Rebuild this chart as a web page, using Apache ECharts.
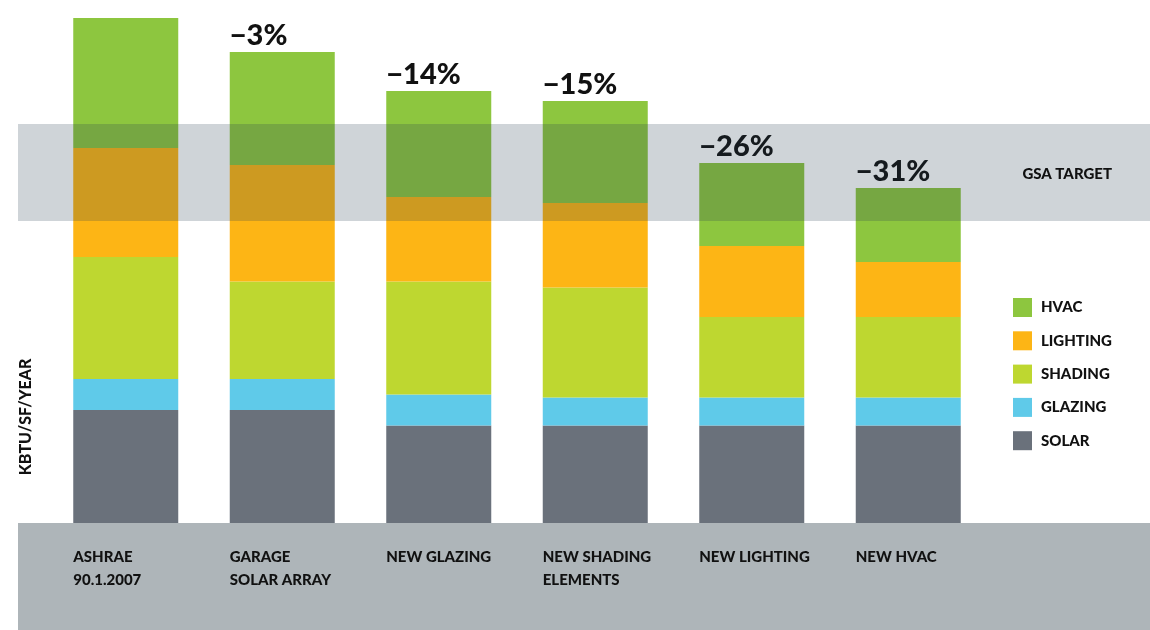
<!DOCTYPE html>
<html>
<head>
<meta charset="utf-8">
<script src="https://cdn.jsdelivr.net/npm/echarts@6/dist/echarts.min.js"></script>
<style>
  html, body { margin: 0; padding: 0; background: #ffffff; }
  #chart { width: 1150px; height: 630px; }
</style>
</head>
<body>
<div id="chart"></div>
<script>
// ---- data ----
const categories = ['ASHRAE\n90.1.2007', 'GARAGE\nSOLAR ARRAY', 'NEW GLAZING', 'NEW SHADING\nELEMENTS', 'NEW LIGHTING', 'NEW HVAC'];
const solar    = [22.6, 22.6, 19.5, 19.5, 19.5, 19.5];
const glazing  = [6.2, 6.2, 6.2, 5.6, 5.6, 5.6];
const shading  = [24.4, 19.5, 22.6, 22.0, 16.1, 16.1];
const lighting = [21.8, 23.3, 16.9, 16.9, 14.2, 11.0];
const hvac     = [26.0, 22.6, 21.2, 20.4, 16.6, 14.8];
const savings  = ['', '\u22123%', '\u221214%', '\u221215%', '\u221226%', '\u221231%'];
const gsaTarget = [60.4, 79.8];
const yMax = 101;
const legendOrder = ['HVAC', 'LIGHTING', 'SHADING', 'GLAZING', 'SOLAR'];

const colors = {
  HVAC: '#8dc63f',
  LIGHTING: '#fdb515',
  SHADING: '#bed730',
  GLAZING: '#5fcae9',
  SOLAR: '#6a717b'
};
const FONT = 'Lato, "Open Sans", sans-serif';
const W = 900;
const TXT = '#111111';

const chart = echarts.init(document.getElementById('chart'), null, { renderer: 'canvas' });

function barSeries(name, data, extra) {
  return Object.assign({
    name: name,
    type: 'bar',
    stack: 'total',
    data: data,
    barWidth: 105,
    itemStyle: { color: colors[name] },
    emphasis: { disabled: true },
    xAxisIndex: 0,
    yAxisIndex: 0,
    z: 2
  }, extra || {});
}

const option = {
  animation: false,
  backgroundColor: '#ffffff',
  textStyle: { fontFamily: FONT },
  grid: [
    { left: 47.5, width: 939, top: 18, bottom: 107 },
    { left: 18, right: 0, top: 18, bottom: 107 }
  ],
  xAxis: [
    {
      type: 'category',
      gridIndex: 0,
      data: categories,
      axisLine: { show: false },
      axisTick: { show: false },
      splitLine: { show: false },
      axisLabel: {
        interval: 0,
        align: 'left',
        padding: [0, 0, 0, -52.5],
        margin: 23,
        fontFamily: FONT,
        fontWeight: W,
        fontSize: 15,
        lineHeight: 23,
        color: TXT
      }
    },
    { type: 'value', gridIndex: 1, min: 0, max: 1, show: false }
  ],
  yAxis: [
    { type: 'value', gridIndex: 0, min: 0, max: yMax, show: false },
    { type: 'value', gridIndex: 1, min: 0, max: yMax, show: false }
  ],
  legend: {
    data: legendOrder,
    orient: 'vertical',
    left: 1013,
    top: 298,
    padding: 0,
    itemWidth: 19,
    itemHeight: 19,
    itemGap: 14.3,
    icon: 'rect',
    selectedMode: false,
    textStyle: {
      fontFamily: FONT,
      fontWeight: W,
      fontSize: 15,
      color: TXT,
      padding: [0, 0, 0, 4]
    }
  },
  graphic: [
    {
      type: 'rect',
      z: -10,
      silent: true,
      shape: { x: 18, y: 523, width: 1132, height: 107 },
      style: { fill: '#aeb5b9' }
    },
    {
      type: 'text',
      silent: true,
      x: 26,
      y: 417,
      rotation: Math.PI / 2,
      style: {
        text: 'KBTU/SF/YEAR',
        fontFamily: FONT,
        fontWeight: W,
        fontSize: 16,
        fill: TXT,
        align: 'center',
        verticalAlign: 'middle'
      }
    }
  ],
  series: [
    barSeries('SOLAR', solar),
    barSeries('GLAZING', glazing),
    barSeries('SHADING', shading),
    barSeries('LIGHTING', lighting),
    barSeries('HVAC', hvac, {
      label: {
        show: true,
        position: 'top',
        distance: 2,
        align: 'left',
        offset: [-52.5, 0],
        formatter: function (p) { return savings[p.dataIndex]; },
        fontFamily: FONT,
        fontWeight: W,
        fontSize: 29,
        color: TXT
      }
    }),
    {
      name: 'GSA TARGET',
      type: 'line',
      xAxisIndex: 1,
      yAxisIndex: 1,
      data: [],
      z: 10,
      silent: true,
      markArea: {
        silent: true,
        z: 10,
        itemStyle: { color: 'rgba(36,59,77,0.22)' },
        label: {
          show: true,
          position: 'insideRight',
          distance: 38,
          offset: [0, 2],
          formatter: 'GSA TARGET',
          fontFamily: FONT,
          fontWeight: W,
          fontSize: 15,
          color: TXT
        },
        data: [[{ yAxis: gsaTarget[0] }, { yAxis: gsaTarget[1] }]]
      }
    }
  ]
};

chart.setOption(option);
</script>
</body>
</html>
